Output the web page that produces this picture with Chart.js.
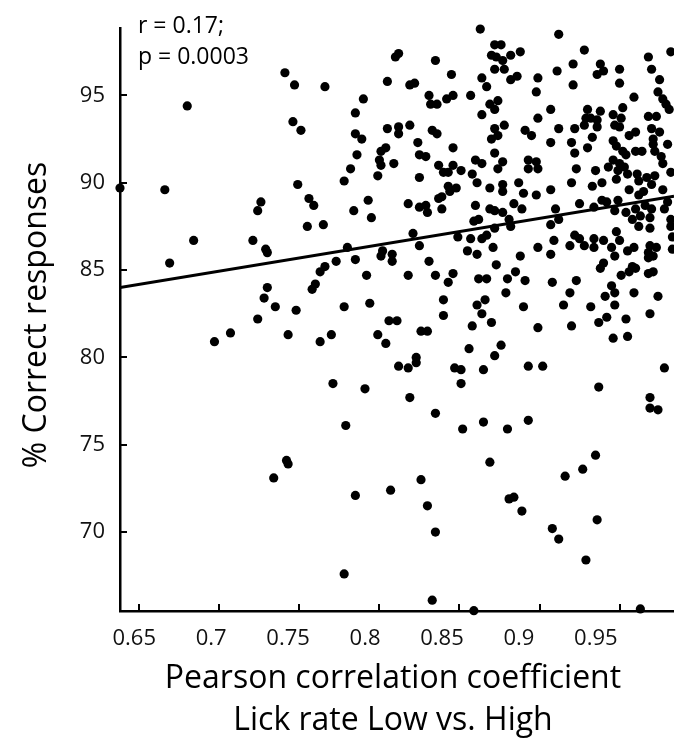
<!DOCTYPE html>
<html>
<head>
<meta charset="utf-8">
<script src="https://cdn.jsdelivr.net/npm/chart.js@4.4.1/dist/chart.umd.min.js"></script>
<style>
  html, body { margin: 0; padding: 0; background: #fff; }
  #c { display: block; }
</style>
</head>
<body>
<canvas id="c" width="674" height="738"></canvas>
<script>
// Scatter: lick-rate correlation vs % correct, with regression line.

// ---- data (x = Pearson r, y = % correct) ----
var trials = [
  // sparse left part
  [0.680,94.4],[0.638,89.7],[0.666,89.6],[0.726,88.9],[0.724,88.4],
  [0.684,86.7],[0.669,85.4],[0.707,81.4],[0.697,80.9],
  // 0.72 - 0.81, upper
  [0.810,97.2],[0.812,97.4],[0.741,96.3],[0.747,95.6],[0.766,95.5],[0.805,95.8],[0.790,94.8],[0.785,94.0],
  [0.746,93.5],[0.751,93.0],[0.785,92.8],[0.789,92.5],[0.805,93.1],[0.812,93.2],[0.812,92.8],[0.786,91.6],
  [0.801,91.8],[0.804,92.0],[0.800,91.3],[0.801,91.0],[0.809,91.1],[0.782,90.8],[0.778,90.1],[0.799,90.4],
  [0.749,89.9],[0.756,89.1],[0.759,88.7],[0.793,89.0],[0.784,88.4],[0.795,88.0],
  // 0.72 - 0.81, lower
  [0.721,86.7],[0.729,86.2],[0.730,86.0],[0.755,87.5],[0.765,87.6],[0.780,86.3],[0.801,85.8],[0.802,86.1],
  [0.808,85.9],[0.808,85.5],[0.766,85.2],[0.763,84.9],[0.773,85.5],[0.785,85.6],[0.792,84.7],[0.760,84.2],
  [0.758,83.9],[0.730,84.0],[0.728,83.4],[0.735,82.9],[0.748,82.7],[0.778,82.9],[0.794,83.1],[0.724,82.2],
  [0.806,82.1],[0.811,82.1],[0.743,81.3],[0.763,80.9],[0.770,81.3],[0.799,81.3],[0.804,80.8],[0.812,79.5],
  [0.771,78.5],[0.791,78.2],
  [0.779,76.1],[0.742,74.1],[0.743,73.9],[0.734,73.1],[0.785,72.1],[0.807,72.4],[0.778,67.6],
  // 0.81 - 0.90, low scores
  [0.835,76.8],[0.852,75.9],[0.865,76.3],[0.880,75.9],[0.893,76.4],[0.869,74.0],[0.826,73.0],[0.830,71.5],
  [0.881,71.9],[0.884,72.0],[0.889,71.2],[0.835,70.0],[0.833,66.1],[0.859,65.5],
  // > 0.90, low scores
  [0.974,77.0],[0.969,77.1],[0.969,77.7],[0.935,74.4],[0.927,73.6],[0.916,73.2],[0.936,70.7],[0.908,70.2],
  [0.912,69.6],[0.929,68.4],[0.963,65.6],
  // > 0.90, 78 - 88
  [0.909,86.7],[0.899,86.3],[0.919,86.4],[0.907,85.9],[0.922,87.0],[0.925,86.8],[0.928,86.4],[0.934,86.8],
  [0.940,86.7],[0.934,86.3],[0.948,87.2],[0.950,86.7],[0.945,86.3],[0.947,85.8],[0.955,86.1],[0.959,86.3],
  [0.969,86.4],[0.973,86.3],[0.968,86.0],[0.971,85.8],[0.968,85.7],[0.983,86.2],[0.982,87.5],[0.983,86.9],
  [0.940,85.4],[0.938,85.1],[0.958,85.2],[0.960,85.1],[0.956,84.9],[0.951,84.7],[0.968,84.8],[0.971,84.9],
  [0.908,84.3],[0.923,84.4],[0.919,83.7],[0.945,84.1],[0.947,83.7],[0.959,83.7],[0.974,83.5],[0.941,83.5],
  [0.915,83.0],[0.932,82.9],[0.947,83.0],[0.899,81.7],[0.920,81.8],[0.937,82.0],[0.942,82.3],[0.954,82.2],
  [0.969,82.5],[0.946,81.1],[0.955,81.2],[0.902,79.5],[0.937,78.3],[0.978,79.4],
  [0.907,87.6],[0.912,87.9],[0.958,87.9],[0.963,88.1],[0.969,88.0],[0.962,87.5],[0.969,87.4],[0.982,87.9],
  // 0.81 - 0.90, 77 - 88
  [0.859,87.8],[0.862,87.9],[0.881,87.9],[0.882,87.5],[0.872,87.4],[0.821,87.1],[0.825,86.4],[0.849,86.9],
  [0.857,86.8],[0.864,86.8],[0.867,87.0],[0.871,86.3],[0.855,86.1],[0.861,85.9],[0.888,85.8],[0.831,85.5],
  [0.873,85.3],[0.818,84.7],[0.835,84.7],[0.846,84.8],[0.843,84.3],[0.862,84.5],[0.867,84.5],[0.880,84.5],
  [0.885,84.9],[0.891,84.4],[0.879,83.7],[0.840,83.3],[0.866,83.3],[0.861,83.0],[0.890,82.9],[0.840,82.4],
  [0.864,82.5],[0.858,81.8],[0.870,82.0],[0.826,81.5],[0.830,81.5],[0.856,80.5],[0.876,80.7],[0.872,80.1],
  [0.823,80.0],[0.823,79.7],[0.818,79.4],[0.847,79.4],[0.851,79.3],[0.865,79.3],[0.893,79.5],[0.851,78.5],
  [0.819,77.7],
  // 0.81 - 0.90, 88 - 99
  [0.863,98.8],[0.835,97.0],[0.872,97.9],[0.876,97.9],[0.870,97.3],[0.873,97.2],[0.877,97.0],[0.882,97.3],
  [0.888,97.5],[0.872,96.5],[0.878,96.5],[0.845,96.2],[0.864,96.0],[0.882,95.9],[0.886,96.1],[0.899,96.0],
  [0.819,95.6],[0.822,95.7],[0.867,95.5],[0.831,95.0],[0.842,94.8],[0.846,95.0],[0.857,95.0],[0.832,94.5],
  [0.836,94.5],[0.869,94.5],[0.874,94.7],[0.872,94.2],[0.898,95.2],[0.864,93.9],[0.899,93.7],[0.819,93.3],
  [0.833,93.0],[0.836,92.8],[0.872,93.1],[0.878,93.3],[0.874,92.7],[0.870,92.5],[0.891,93.0],[0.895,92.7],
  [0.824,92.3],[0.846,92.0],[0.825,91.6],[0.829,91.5],[0.872,91.7],[0.837,91.0],[0.840,90.6],[0.843,90.6],
  [0.846,91.0],[0.851,90.7],[0.860,91.3],[0.864,91.1],[0.877,91.2],[0.874,90.8],[0.858,90.5],[0.893,91.3],
  [0.893,90.8],[0.898,91.2],[0.899,90.8],[0.825,90.3],[0.861,90.0],[0.843,89.8],[0.848,89.7],[0.844,89.5],
  [0.869,89.7],[0.877,89.9],[0.877,89.5],[0.887,90.0],[0.890,89.4],[0.898,89.3],[0.837,89.1],[0.839,89.2],
  [0.818,88.8],[0.825,88.6],[0.830,88.3],[0.829,88.7],[0.839,88.5],[0.860,88.7],[0.869,88.5],[0.872,88.4],
  [0.877,88.3],[0.884,88.8],[0.889,88.5],
  // > 0.90, 88 - 99
  [0.912,98.5],[0.928,97.6],[0.921,96.8],[0.911,96.4],[0.938,96.8],[0.936,96.2],[0.940,96.4],[0.950,96.5],
  [0.950,95.7],[0.921,95.6],[0.968,97.2],[0.982,97.5],[0.970,96.5],[0.975,95.9],[0.974,95.2],[0.977,94.8],
  [0.979,94.5],[0.981,94.2],[0.959,94.9],[0.907,94.2],[0.930,94.2],[0.938,94.1],[0.952,94.3],[0.929,93.7],
  [0.932,93.7],[0.936,93.6],[0.928,93.3],[0.936,93.2],[0.946,93.9],[0.951,93.7],[0.947,93.3],[0.950,93.2],
  [0.968,93.8],[0.973,93.8],[0.912,93.1],[0.922,93.1],[0.960,92.9],[0.956,92.7],[0.970,93.1],[0.975,92.9],
  [0.971,92.5],[0.933,92.6],[0.907,92.3],[0.920,92.3],[0.946,92.4],[0.948,92.1],[0.952,91.8],[0.954,91.6],
  [0.930,92.0],[0.960,91.8],[0.964,91.8],[0.971,92.2],[0.972,91.8],[0.980,92.2],[0.922,91.7],[0.946,91.3],
  [0.950,91.1],[0.953,90.9],[0.943,90.9],[0.949,90.7],[0.955,90.5],[0.935,90.7],[0.923,90.8],[0.961,90.5],
  [0.962,90.1],[0.967,90.3],[0.972,90.4],[0.970,89.9],[0.977,91.1],[0.976,91.5],[0.982,90.6],[0.977,89.6],
  [0.920,90.0],[0.933,89.8],[0.939,90.0],[0.948,90.2],[0.907,89.6],[0.956,89.6],[0.962,89.3],[0.965,89.5],
  [0.925,88.8],[0.939,89.0],[0.942,88.9],[0.949,89.0],[0.934,88.6],[0.910,88.5],[0.947,88.4],[0.954,88.3],
  [0.960,88.5],[0.966,88.7],[0.970,88.5],[0.978,88.5],[0.980,88.9]
];

// regression line end points
var fitX = [0.638, 0.984];
var fitY = [84.0, 89.23];

var xTicks = [0.65, 0.7, 0.75, 0.8, 0.85, 0.9, 0.95];
var yTicks = [70, 75, 80, 85, 90, 95];
var statLines = ['r = 0.17;', 'p = 0.0003'];
var xTitle = ['Pearson correlation coefficient', 'Lick rate Low vs. High'];
var yTitle = '% Correct responses';

var FONT = '"Open Sans", "DejaVu Sans", sans-serif';
var INK = '#000';

// ---- inward tick marks + x tick labels (the labels in the figure sit a bit
// tighter than the tick marks, so they are placed by hand from the scale) ----
var innerTicks = {
  id: 'innerTicks',
  afterDraw: function (chart) {
    var c = chart.ctx, a = chart.chartArea;
    var sx = chart.scales.x, sy = chart.scales.y;
    c.save();
    c.strokeStyle = INK;
    c.lineWidth = 2;
    xTicks.forEach(function (v) {
      var p = Math.round(sx.getPixelForValue(v));
      c.beginPath(); c.moveTo(p, a.bottom); c.lineTo(p, a.bottom - 7); c.stroke();
    });
    yTicks.forEach(function (v) {
      var p = Math.round(sy.getPixelForValue(v));
      c.beginPath(); c.moveTo(a.left, p); c.lineTo(a.left + 7, p); c.stroke();
    });

    var p0 = sx.getPixelForValue(xTicks[0]);
    c.fillStyle = '#111';
    c.font = '22px ' + FONT;
    c.textAlign = 'center';
    c.textBaseline = 'alphabetic';
    xTicks.forEach(function (v) {
      var p = p0 - 5 + (sx.getPixelForValue(v) - p0) * 0.961;
      c.fillText(String(v), p, 645);
    });
    c.restore();
  }
};

// ---- stats note + axis titles ----
var texts = {
  id: 'texts',
  afterDraw: function (chart) {
    var c = chart.ctx;
    c.save();
    c.fillStyle = INK;
    c.textBaseline = 'alphabetic';

    c.font = '23px ' + FONT;
    c.textAlign = 'left';
    c.fillText(statLines[0], 138, 33);
    c.fillText(statLines[1], 138, 64);

    c.font = '32px ' + FONT;
    c.textAlign = 'center';
    c.fillText(xTitle[0], 393, 688);
    c.fillText(xTitle[1], 393, 730);

    c.translate(46, 315);
    c.rotate(-Math.PI / 2);
    c.fillText(yTitle, 0, 0);
    c.restore();
  }
};

new Chart(document.getElementById('c'), {
  type: 'scatter',
  data: {
    datasets: [{
      data: trials.map(function (p) { return { x: p[0], y: p[1] }; }),
      backgroundColor: INK,
      borderWidth: 0,
      pointRadius: 4.6,
      pointHoverRadius: 4.6,
      clip: false
    }, {
      type: 'line',
      data: fitX.map(function (x, i) { return { x: x, y: fitY[i] }; }),
      borderColor: INK,
      borderWidth: 3,
      pointRadius: 0,
      fill: false
    }]
  },
  options: {
    responsive: false,
    animation: false,
    layout: { autoPadding: false, padding: { top: 15, right: 0, bottom: 0, left: 0 } },
    plugins: { legend: { display: false }, tooltip: { enabled: false } },
    scales: {
      x: {
        type: 'linear',
        min: 0.638,
        max: 0.984,
        grid: { display: false, drawTicks: false },
        border: { display: true, color: INK, width: 2.5 },
        ticks: { display: false },
        afterBuildTicks: function (s) { s.ticks = xTicks.map(function (v) { return { value: v }; }); },
        afterFit: function (s) { s.height = 127; }
      },
      y: {
        min: 65.48,
        max: 98.85,
        grid: { display: false, drawTicks: false },
        border: { display: true, color: INK, width: 2.5 },
        ticks: {
          color: '#111',
          font: { family: FONT, size: 22 },
          padding: 15
        },
        afterBuildTicks: function (s) { s.ticks = yTicks.map(function (v) { return { value: v }; }); },
        afterFit: function (s) { s.width = 120; }
      }
    }
  },
  plugins: [innerTicks, texts]
});
</script>
</body>
</html>
